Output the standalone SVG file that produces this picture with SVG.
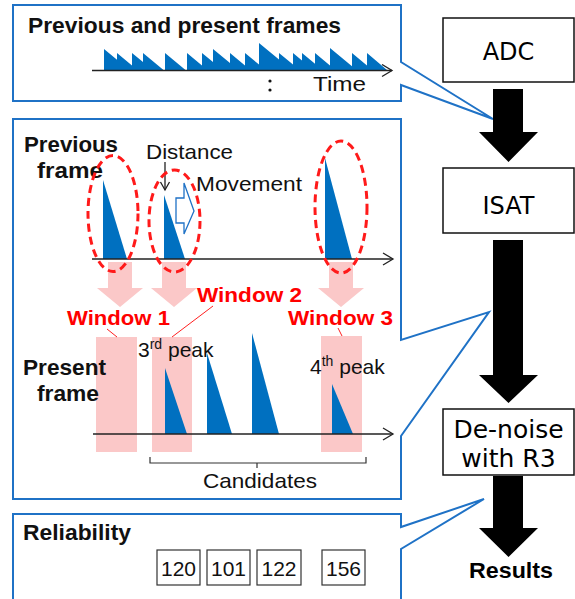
<svg xmlns="http://www.w3.org/2000/svg" width="575" height="599" viewBox="0 0 575 599">
<style>
.callout{fill:#fff;stroke:#1f72c6;stroke-width:2;stroke-linejoin:miter}
.sans{font-family:"Liberation Sans",Arial,sans-serif}
.b{font-weight:bold}
.lbl{font-family:"Liberation Sans",Arial,sans-serif;font-size:21px;fill:#111}
.hd{font-family:"Liberation Sans",Arial,sans-serif;font-size:22px;font-weight:bold;fill:#111}
.win{font-family:"Liberation Sans",Arial,sans-serif;font-size:21px;font-weight:bold;fill:#ff0000}
.wave{fill:#0070c0}
.axis{stroke:#222;stroke-width:1.3;fill:none}
.ell{fill:none;stroke:#ff1a1a;stroke-width:3;stroke-dasharray:8 5}
.pink{fill:#fbc8c8}
.lead{stroke:#ff2020;stroke-width:1}
.step{fill:#fff;stroke:#111;stroke-width:1.5}
.steptxt{font-family:"DejaVu Sans",Verdana,sans-serif;font-size:25px;fill:#000;text-anchor:middle}
.bigarrow{fill:#000}
.num{fill:#fff;stroke:#333;stroke-width:1.2}
.numtxt{font-family:"Liberation Sans",Arial,sans-serif;font-size:21px;fill:#111;text-anchor:middle}
</style>
<defs>
<marker id="chev" markerUnits="userSpaceOnUse" markerWidth="14" markerHeight="14" viewBox="-12 -7 14 14" refX="0" refY="0" orient="auto">
<path d="M-10,-6 L0,0 L-10,6" fill="none" stroke="#222" stroke-width="1.3"/>
</marker>
<marker id="chevs" markerUnits="userSpaceOnUse" markerWidth="12" markerHeight="12" viewBox="-10 -6 12 12" refX="0" refY="0" orient="auto">
<path d="M-8,-4.5 L0,0 L-8,4.5" fill="none" stroke="#222" stroke-width="1.3"/>
</marker>
</defs>
<rect width="575" height="599" fill="#fff"/>

<g id="panel-frames">
<path class="callout" d="M13,5 H401 V62 L493,119 L401,85 V101 H13 Z"/>
<text class="hd" x="28" y="33" textLength="313" lengthAdjust="spacingAndGlyphs">Previous and present frames</text>
<polygon class="wave" points="104,70 104,49 117,59.8 117,53 132,65.5 132,53 143,62.1 143,53 163.5,70 165,70 165,53 185.5,70 187,70 187,53 202,65.5 202,53 213,62.1 213,49 230,63.1 230,53 245,65.5 245,53 259,64.6 259,43 279,59.6 279,53 293,64.6 293,53 302,60.5 302,53 315,63.8 315,53 330,65.5 330,48 352,66.3 352,53 367,65.5 367,53 387,70"/>
<line class="axis" x1="92" y1="70.5" x2="392" y2="70.5" marker-end="url(#chev)"/>
<circle cx="270" cy="81" r="1.6" fill="#111"/>
<circle cx="270" cy="90" r="1.6" fill="#111"/>
<text class="lbl" x="313" y="91" textLength="53" lengthAdjust="spacingAndGlyphs">Time</text>
</g>

<g id="panel-windows">
<path class="callout" d="M13,119 H401 V340 L489,312 L401,436 V499 H13 Z"/>
<text class="hd" x="24" y="152" textLength="94" lengthAdjust="spacingAndGlyphs">Previous</text>
<text class="hd" x="37" y="178" textLength="66" lengthAdjust="spacingAndGlyphs">frame</text>
<g id="pink-arrows">
<polygon class="pink" points="108,262 132,262 132,288 143,288 120,307 97,288 108,288"/>
<polygon class="pink" points="162,262 186,262 186,288 197,288 174,307 151,288 162,288"/>
<polygon class="pink" points="329,262 353,262 353,288 364,288 341,307 318,288 329,288"/>
</g>
<g id="windows">
<rect class="pink" x="96" y="337" width="41" height="115"/>
<rect class="pink" x="152" y="337" width="40" height="115"/>
<rect class="pink" x="321" y="336" width="41" height="116"/>
</g>
<polygon class="wave" points="103,180 103,259 127,259"/>
<polygon class="wave" points="164,195 164,259 185,259"/>
<polygon class="wave" points="325,158 325,259 352,259"/>
<line class="axis" x1="92" y1="259" x2="393" y2="259" marker-end="url(#chev)"/>
<text class="lbl" x="146" y="159" textLength="87" lengthAdjust="spacingAndGlyphs">Distance</text>
<line class="axis" x1="165" y1="162" x2="165" y2="190" marker-end="url(#chevs)"/>
<text class="lbl" x="196" y="191" textLength="106" lengthAdjust="spacingAndGlyphs">Movement</text>
<polygon points="176,198 184,198 184,183 194,211 184,234 184,223 176,223" fill="#fff" stroke="#1f72c6" stroke-width="1.3"/>
<ellipse class="ell" cx="113" cy="213.5" rx="25" ry="58"/>
<ellipse class="ell" cx="174.5" cy="221" rx="25.5" ry="51"/>
<ellipse class="ell" cx="341" cy="207" rx="26" ry="66"/>
<text class="win" x="67" y="325" textLength="103" lengthAdjust="spacingAndGlyphs">Window 1</text>
<text class="win" x="197" y="302" textLength="105" lengthAdjust="spacingAndGlyphs">Window 2</text>
<text class="win" x="288" y="325" textLength="105" lengthAdjust="spacingAndGlyphs">Window 3</text>
<line class="lead" x1="107" y1="329" x2="117" y2="337"/>
<line class="lead" x1="213" y1="306" x2="172" y2="337"/>
<line class="lead" x1="338" y1="328" x2="342" y2="336"/>
<text class="hd" x="23" y="375" textLength="83" lengthAdjust="spacingAndGlyphs">Present</text>
<text class="hd" x="37" y="401" textLength="62" lengthAdjust="spacingAndGlyphs">frame</text>
<polygon class="wave" points="165,368 165,434 187,434"/>
<polygon class="wave" points="207,353 207,434 232,434"/>
<polygon class="wave" points="252,333 252,434 279,434"/>
<polygon class="wave" points="332,384 332,434 353,434"/>
<line class="axis" x1="93" y1="434" x2="393" y2="434" marker-end="url(#chev)"/>
<text class="lbl" x="138" y="357" font-size="22">3<tspan dy="-8" font-size="14">rd</tspan><tspan dy="8"> peak</tspan></text>
<text class="lbl" x="310" y="374" font-size="22">4<tspan dy="-8" font-size="14">th</tspan><tspan dy="8"> peak</tspan></text>
<path d="M150,457 V463 H366 V457 M257,463 V468" fill="none" stroke="#333" stroke-width="1.2"/>
<text class="lbl" x="203" y="488" textLength="114" lengthAdjust="spacingAndGlyphs">Candidates</text>
</g>

<g id="panel-reliability">
<path class="callout" d="M13,601 V514 H401 V527 L484,499 L401,549 V601"/>
<text class="hd" x="23" y="540" textLength="108" lengthAdjust="spacingAndGlyphs">Reliability</text>
<rect class="num" x="157" y="550" width="43" height="35"/>
<rect class="num" x="207" y="550" width="43" height="35"/>
<rect class="num" x="257" y="550" width="44" height="35"/>
<rect class="num" x="322" y="550" width="43" height="35"/>
<text class="numtxt" x="178.5" y="576">120</text>
<text class="numtxt" x="228.5" y="576">101</text>
<text class="numtxt" x="279" y="576">122</text>
<text class="numtxt" x="343.5" y="576">156</text>
</g>

<g id="node-adc">
<rect class="step" x="443" y="18" width="131" height="64"/>
<text class="steptxt" x="508.5" y="60" style="font-size:24px">ADC</text>
</g>
<g id="node-isat">
<rect class="step" x="443" y="168" width="131" height="65"/>
<text class="steptxt" x="508.5" y="214" style="font-size:24px">ISAT</text>
</g>
<g id="node-denoise">
<rect class="step" x="443" y="409" width="131" height="66"/>
<text class="steptxt" x="508.5" y="438">De-noise</text>
<text class="steptxt" x="508.5" y="467">with R3</text>
</g>
<g id="node-results">
<text class="sans b" x="469" y="578" font-size="22" fill="#000" textLength="84" lengthAdjust="spacingAndGlyphs">Results</text>
</g>

<g id="connectors">
<polygon class="bigarrow" points="493,89 523,89 523,132 538,132 508.5,162 479,132 493,132"/>
<polygon class="bigarrow" points="493,240 523,240 523,375 538,375 508.5,403 479,375 493,375"/>
<polygon class="bigarrow" points="493,476 523,476 523,528 538,528 508.5,557 479,528 493,528"/>
</g>
</svg>
